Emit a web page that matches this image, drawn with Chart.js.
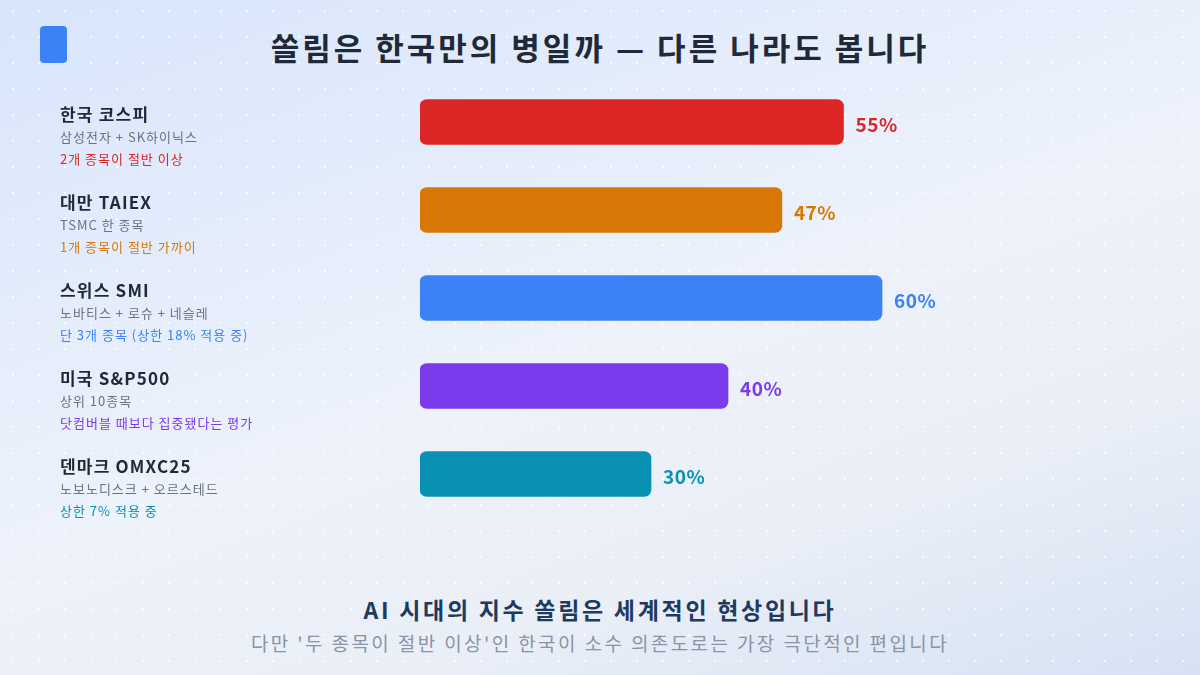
<!DOCTYPE html>
<html><head><meta charset="utf-8">
<script src="https://cdn.jsdelivr.net/npm/chart.js@4"></script>
<style>
html,body{margin:0;width:1200px;height:675px;overflow:hidden;font-family:"Noto Sans CJK KR","Noto Sans",sans-serif;}
body{background:linear-gradient(160deg,#d8e5fb 0%,#edf2fb 50%,#e9eef7 75%,#d6e2f4 100%);position:relative;}
#dots{position:absolute;inset:0;background-image:radial-gradient(circle,rgba(255,255,255,0.8) 1px,transparent 1.3px);background-size:26px 26px;background-position:0 -2px;}
#icon{position:absolute;left:40px;top:26px;width:27px;height:37px;background:#3b82f6;border-radius:4px;}
#title{position:absolute;left:0;right:0;top:24px;text-align:center;font-size:31px;font-weight:700;color:#1f2937;letter-spacing:3px;}
#f1{position:absolute;left:0;right:0;top:592px;text-align:center;font-size:23px;font-weight:700;color:#1e3a5f;letter-spacing:2.7px;}
#f2{position:absolute;left:0;right:0;top:629px;text-align:center;font-size:19px;color:#8a94a6;letter-spacing:2.4px;}
canvas{position:absolute;left:0;top:0;}
</style></head><body>
<div id="dots"></div><div id="icon"></div>
<div id="title">쏠림은 한국만의 병일까 — 다른 나라도 봅니다</div>
<div id="f1">AI 시대의 지수 쏠림은 세계적인 현상입니다</div>
<div id="f2">다만 '두 종목이 절반 이상'인 한국이 소수 의존도로는 가장 극단적인 편입니다</div>
<canvas id="c" width="1200" height="675"></canvas>
<script>
const names=["한국 코스피","대만 TAIEX","스위스 SMI","미국 S&P500","덴마크 OMXC25"];
const subs=["삼성전자 + SK하이닉스","TSMC 한 종목","노바티스 + 로슈 + 네슬레","상위 10종목","노보노디스크 + 오르스테드"];
const notes=["2개 종목이 절반 이상","1개 종목이 절반 가까이","단 3개 종목 (상한 18% 적용 중)","닷컴버블 때보다 집중됐다는 평가","상한 7% 적용 중"];
const values=[55,47,60,40,30];
const colors=["#dc2626","#d97706","#3b82f6","#7c3aed","#0891b2"];
const F='"Noto Sans CJK KR","Noto Sans",sans-serif';
const labelsPlugin={id:'lbl',afterDatasetsDraw(chart){
 const ctx=chart.ctx,y=chart.scales.y,x=chart.scales.x;
 ctx.save();ctx.textBaseline='middle';
 names.forEach((n,i)=>{
  const cy=y.getPixelForValue(i);
  ctx.textAlign='left';
  ctx.letterSpacing='1.2px';
  ctx.fillStyle='#1f2937';ctx.font='700 17px '+F;ctx.fillText(n,60,cy-7);
  ctx.letterSpacing='1px';
  ctx.fillStyle='#6b7280';ctx.font='13px '+F;ctx.fillText(subs[i],60,cy+15);
  ctx.fillStyle=colors[i];ctx.font='13px '+F;ctx.fillText(notes[i],60,cy+37);
  ctx.letterSpacing='0.5px';
  ctx.fillStyle=colors[i];ctx.font='700 19px '+F;
  ctx.fillText(values[i]+'%',x.getPixelForValue(values[i])+12,cy+3);
 });
 ctx.restore();}};
new Chart(document.getElementById('c'),{type:'bar',
 data:{labels:names,datasets:[{data:values,backgroundColor:colors,borderRadius:7,borderSkipped:false,barThickness:45}]},
 options:{indexAxis:'y',responsive:false,animation:false,
  layout:{padding:{left:420,top:78,bottom:157,right:10}},
  plugins:{legend:{display:false},tooltip:{enabled:false}},
  scales:{x:{display:false,min:0,max:100},y:{display:false}}},
 plugins:[labelsPlugin]});
</script></body></html>
